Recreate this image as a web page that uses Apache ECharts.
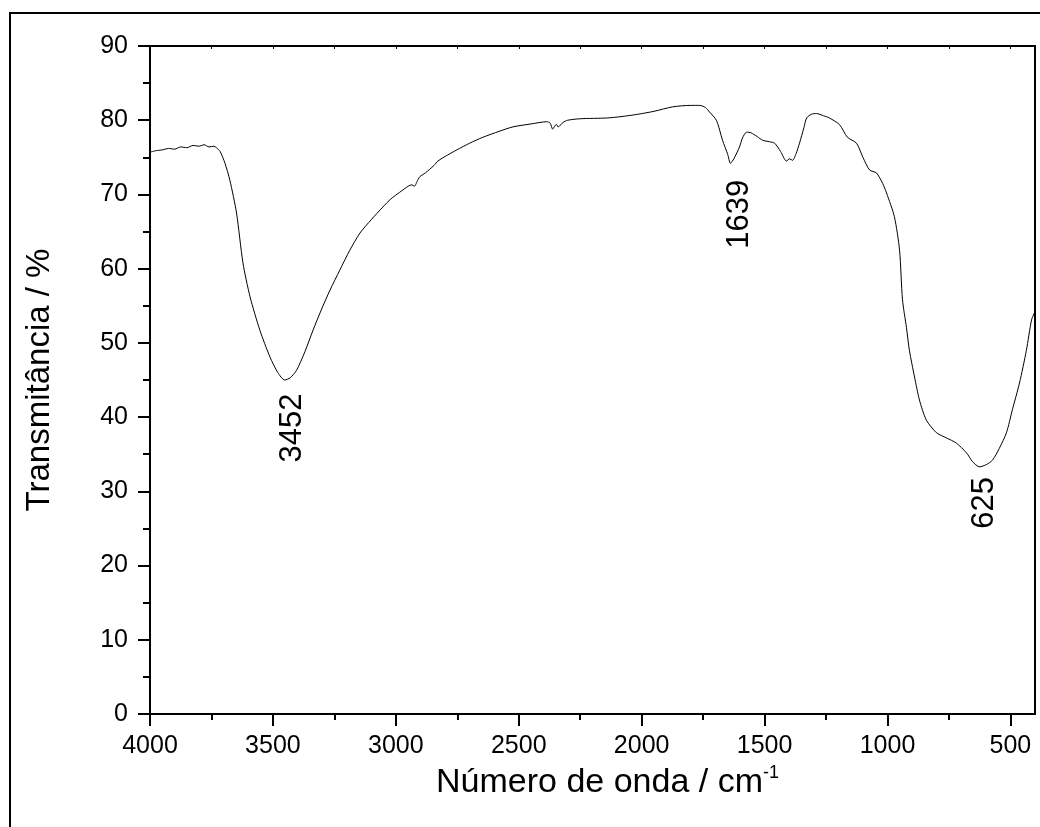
<!DOCTYPE html>
<html>
<head>
<meta charset="utf-8">
<script src="https://cdn.jsdelivr.net/npm/echarts@6/dist/echarts.min.js"></script>
<style>
  html, body { margin: 0; padding: 0; background: #fff; }
  #main { width: 1040px; height: 827px; }
</style>
</head>
<body>
<div id="main"></div>
<script>
// wavenumber (cm-1)
const wavenumbers = [
  4000, 3975, 3950, 3925, 3900, 3875, 3850, 3825, 3800, 3780, 3760, 3740, 3730,
  3715, 3695, 3675, 3648, 3622, 3593, 3553, 3512, 3480, 3452, 3430, 3404, 3370,
  3337, 3300, 3268, 3228, 3187, 3146, 3100, 3053, 3020, 2984, 2950, 2935, 2925,
  2910, 2902, 2880, 2862, 2845, 2829, 2790, 2752, 2700, 2646, 2580, 2524, 2450,
  2386, 2372, 2362, 2352, 2346, 2340, 2320, 2301, 2250, 2142, 2080, 2016, 1950,
  1874, 1800, 1764, 1740, 1724, 1696, 1671, 1650, 1639, 1625, 1602, 1590, 1573,
  1555, 1530, 1508, 1480, 1459, 1435, 1411, 1398, 1386, 1372, 1358, 1340, 1329,
  1310, 1289, 1260, 1236, 1195, 1163, 1126, 1100, 1073, 1045, 1020, 1004, 972,
  951, 939, 923, 911, 890, 870, 842, 801, 760, 720, 679, 654, 626, 598, 573,
  545, 516, 492, 463, 435, 414, 400
];
// transmittance (%)
const transmittance = [
  75.7, 75.9, 76.0, 76.2, 76.1, 76.4, 76.3, 76.6, 76.5, 76.7, 76.4, 76.5, 76.3,
  75.8, 74.2, 71.9, 67.5, 60.8, 56.2, 51.7, 48.1, 46.0, 45.0, 45.3, 46.3, 48.8,
  51.7, 54.7, 57.1, 59.8, 62.5, 64.8, 66.6, 68.3, 69.4, 70.3, 71.1, 71.3, 71.1,
  72.0, 72.4, 72.9, 73.4, 73.9, 74.5, 75.3, 76.0, 76.9, 77.7, 78.5, 79.1, 79.5,
  79.8, 79.6, 78.8, 79.3, 79.4, 79.1, 79.7, 80.0, 80.2, 80.3, 80.5, 80.8, 81.2,
  81.8, 82.0, 82.0, 81.7, 81.1, 80.0, 77.3, 75.4, 74.2, 74.8, 76.4, 77.6, 78.4,
  78.3, 77.8, 77.3, 77.1, 76.9, 75.8, 74.5, 74.8, 74.6, 75.5, 76.9, 79.0, 80.3,
  80.8, 80.9, 80.6, 80.3, 79.4, 77.7, 76.9, 75.0, 73.3, 72.9, 71.5, 70.2, 67.0,
  62.5, 55.8, 52.1, 49.0, 45.4, 42.3, 39.6, 37.9, 37.2, 36.5, 35.2, 34.0, 33.3, 33.6, 34.2,
  35.8, 37.9, 41.0, 44.6, 49.0, 53.1, 54.2
];
// annotated bands
const peakNames = ['3452', '1639', '625'];
const peakPos = [3452, 1639, 626];
const peakVal = [45.0, 74.2, 33.3];

const xLabels = [4000, 3500, 3000, 2500, 2000, 1500, 1000, 500];
const xMinor = [3750, 3250, 2750, 2250, 1750, 1250, 750];

const font = 'Arial, "Liberation Sans", sans-serif';
const chart = echarts.init(document.getElementById('main'));

const grid = { left: 150, top: 46, right: 5, bottom: 113 };

chart.setOption({
  animation: false,
  backgroundColor: '#fff',
  grid: grid,
  xAxis: [{
    type: 'value', min: 400, max: 4000, inverse: true, position: 'bottom',
    name: 'Número de onda / cm{sup|-1}',
    nameLocation: 'middle', nameGap: 48,
    nameTextStyle: {
      color: '#000', fontFamily: font, fontSize: 34, padding: [0, 0, 0, 30],
      rich: { sup: { fontSize: 18, fontFamily: font, color: '#000', padding: [0, 0, 20, 0] } }
    },
    axisLine: { onZero: false, lineStyle: { color: '#000', width: 2 } },
    axisTick: { customValues: xLabels, length: 12, lineStyle: { color: '#000', width: 2 } },
    axisLabel: {
      customValues: xLabels, color: '#000', fontFamily: font, fontSize: 25, margin: 20,
      formatter: v => String(v)
    },
    splitLine: { show: false }
  }, {
    // minor ticks of the bottom axis
    type: 'value', min: 400, max: 4000, inverse: true, position: 'bottom',
    axisLine: { show: false },
    axisTick: { customValues: xMinor, length: 6, lineStyle: { color: '#000', width: 2 } },
    axisLabel: { show: false },
    splitLine: { show: false }
  }, {
    type: 'value', min: 400, max: 4000, inverse: true, position: 'top',
    axisLine: { onZero: false, lineStyle: { color: '#000', width: 2 } },
    axisTick: { inside: true, customValues: xLabels.concat(xMinor), length: 3, lineStyle: { color: '#000', width: 1 } },
    axisLabel: { show: false },
    splitLine: { show: false }
  }],
  yAxis: [{
    type: 'value', min: 0, max: 90, interval: 10,
    name: 'Transmitância / %',
    nameLocation: 'middle', nameGap: 94, nameRotate: 90,
    nameTextStyle: { color: '#000', fontFamily: font, fontSize: 33 },
    axisLine: { show: true, onZero: false, lineStyle: { color: '#000', width: 2 } },
    axisTick: { length: 12, lineStyle: { color: '#000', width: 2 } },
    minorTick: { show: true, splitNumber: 2, length: 7, lineStyle: { color: '#000', width: 2 } },
    axisLabel: { color: '#000', fontFamily: font, fontSize: 25, margin: 22 },
    splitLine: { show: false }
  }, {
    type: 'value', min: 0, max: 90, interval: 10, position: 'right',
    axisLine: { show: true, onZero: false, lineStyle: { color: '#000', width: 2 } },
    axisTick: { show: false },
    axisLabel: { show: false },
    splitLine: { show: false }
  }],
  series: [{
    type: 'line',
    xAxisIndex: 0,
    yAxisIndex: 0,
    showSymbol: false,
    silent: true,
    smooth: 0.25,
    lineStyle: { color: '#000', width: 1 },
    data: wavenumbers.map((w, i) => [w, transmittance[i]])
  }]
});

// outer frame and rotated band labels
const offsets = [[8, 48], [9, 51], [5, 36]];
const texts = peakNames.map((name, i) => {
  const p = chart.convertToPixel({ xAxisIndex: 0, yAxisIndex: 0 }, [peakPos[i], peakVal[i]]);
  return {
    type: 'text',
    x: p[0] + offsets[i][0],
    y: p[1] + offsets[i][1],
    rotation: Math.PI / 2,
    style: {
      text: name, fill: '#000', font: '31px ' + font,
      textAlign: 'center', textVerticalAlign: 'middle'
    }
  };
});

chart.setOption({
  graphic: [{
    type: 'rect',
    shape: { x: 10, y: 13, width: 1200, height: 1000 },
    style: { fill: null, stroke: '#000', lineWidth: 2 },
    silent: true
  }].concat(texts)
});
</script>
</body>
</html>
